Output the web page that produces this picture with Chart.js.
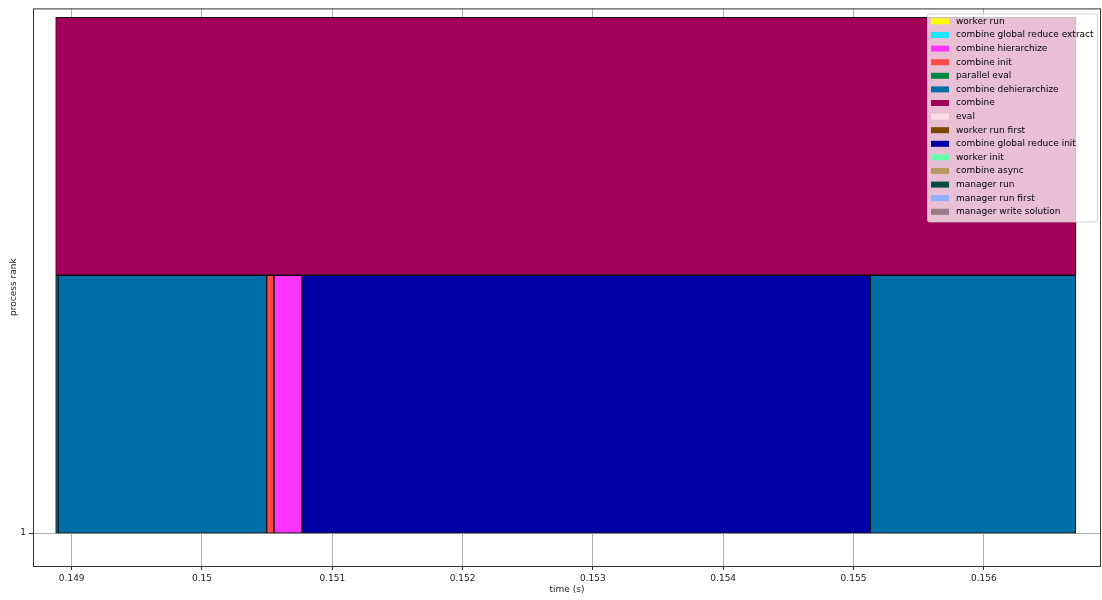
<!DOCTYPE html>
<html>
<head>
<meta charset="utf-8">
<script src="https://cdn.jsdelivr.net/npm/chart.js@4/dist/chart.umd.min.js"></script>
<style>
    body { margin: 0; background: #fff; }
    #wrap { width: 1102px; height: 600px; position: relative; }
</style>
</head>
<body>
<div id="wrap"><canvas id="timeline"></canvas></div>
<script>
// phases in legend order, with their colours
const phases = [
    'worker run', 'combine global reduce extract', 'combine hierarchize', 'combine init',
    'parallel eval', 'combine dehierarchize', 'combine', 'eval', 'worker run first',
    'combine global reduce init', 'worker init', 'combine async', 'manager run',
    'manager run first', 'manager write solution'
];
const phaseColors = [
    '#FFFF00', '#1CE6FF', '#FF34FF', '#FF4A46', '#008941', '#006FA6', '#A30059', '#FFDBE5',
    '#7A4900', '#0000A6', '#63FFAC', '#B79762', '#004D43', '#8FB0FF', '#997D87'
];

// measured intervals (seconds) for process rank 1; level 1 = outer phase
const barPhase = ['combine', 'combine dehierarchize', 'combine dehierarchize', 'combine init',
    'combine hierarchize', 'combine global reduce init', 'combine dehierarchize'];
const barRank = [1, 1, 1, 1, 1, 1, 1];
const barLevel = [1, 0, 0, 0, 0, 0, 0];
const barStart = [0.148877, 0.148877, 0.148897, 0.1504965, 0.150553, 0.150767, 0.155129];
const barEnd = [0.156708, 0.148897, 0.1504965, 0.150553, 0.150767, 0.155129, 0.156705];

const xTicks = [0.149, 0.150, 0.151, 0.152, 0.153, 0.154, 0.155, 0.156];
const xTickLabels = ['0.149', '0.15', '0.151', '0.152', '0.153', '0.154', '0.155', '0.156'];
const yTicks = [1];
const yTickLabels = ['1'];

const FONT = "'DejaVu Sans', sans-serif";

const datasets = phases.map((name, i) => ({
    label: name,
    backgroundColor: phaseColors[i],
    borderColor: '#111',
    borderWidth: 1,
    borderSkipped: false,
    barPercentage: 1,
    categoryPercentage: 1,
    grouped: false,
    data: barPhase
        .map((p, j) => p === name ? { x: [barStart[j], barEnd[j]], y: barRank[j] + barLevel[j] + 0.5 } : null)
        .filter(d => d !== null)
}));

// matplotlib-like frame around the plot area
const framePlugin = {
    id: 'frame',
    afterDatasetsDraw(chart) {
        const { ctx, chartArea: a } = chart;
        ctx.save();
        ctx.strokeStyle = '#333';
        ctx.lineWidth = 1;
        ctx.strokeRect(a.left + 0.5, a.top + 0.5, a.right - a.left - 1, a.bottom - a.top);
        ctx.restore();
    }
};

// legend drawn inside the plot, top right
const legendPlugin = {
    id: 'insideLegend',
    afterDraw(chart) {
        const { ctx, chartArea: a } = chart;
        const items = chart.data.datasets;
        const rowH = 13.6;
        const boxW = 170, boxH = items.length * rowH + 4;
        const x0 = a.right - 4 - boxW, y0 = a.top + 5;
        ctx.save();
        ctx.fillStyle = 'rgba(255,255,255,0.75)';
        ctx.strokeStyle = 'rgba(204,204,204,0.9)';
        ctx.lineWidth = 1;
        ctx.beginPath();
        ctx.roundRect(x0 + 0.5, y0 + 0.5, boxW, boxH, 2);
        ctx.fill();
        ctx.stroke();
        ctx.font = '9px ' + FONT;
        ctx.textBaseline = 'middle';
        items.forEach((ds, i) => {
            const cy = y0 + 8 + i * rowH;
            ctx.fillStyle = ds.backgroundColor;
            ctx.fillRect(x0 + 4, cy - 3, 18, 6);
            ctx.fillStyle = '#000';
            ctx.fillText(ds.label, x0 + 29, cy);
        });
        ctx.restore();
    }
};

new Chart(document.getElementById('timeline'), {
    type: 'bar',
    data: { datasets: datasets },
    plugins: [framePlugin, legendPlugin],
    options: {
        indexAxis: 'y',
        responsive: true,
        maintainAspectRatio: false,
        animation: false,
        layout: { padding: { top: 7, right: 1, left: 0, bottom: 0 } },
        plugins: {
            legend: { display: false },
            tooltip: { enabled: false }
        },
        scales: {
            x: {
                type: 'linear',
                min: 0.148703,
                max: 0.1568995,
                afterBuildTicks: s => { s.ticks = xTicks.map(v => ({ value: v })); },
                afterFit: s => { s.height = 34; },
                grid: { color: '#b0b0b0', lineWidth: 1, tickColor: '#333', tickLength: 4 },
                border: { display: false },
                ticks: {
                    color: '#222',
                    font: { family: FONT, size: 9 },
                    padding: 3,
                    maxRotation: 0,
                    autoSkip: false,
                    callback: (v, i) => xTickLabels[i]
                },
                title: {
                    display: true,
                    text: 'time (s)',
                    color: '#222',
                    font: { family: FONT, size: 9 },
                    padding: { top: 0, bottom: 5 }
                }
            },
            y: {
                type: 'linear',
                min: 0.8723,
                max: 3.0348,
                offset: false,
                afterBuildTicks: s => { s.ticks = yTicks.map(v => ({ value: v })); },
                afterFit: s => { s.width = 33; },
                grid: { color: '#b0b0b0', lineWidth: 1, tickColor: '#333', tickLength: 4, offset: false },
                border: { display: false },
                ticks: {
                    color: '#222',
                    font: { family: FONT, size: 9 },
                    padding: 3,
                    callback: (v, i) => yTickLabels[i]
                },
                title: {
                    display: true,
                    text: 'process rank',
                    color: '#222',
                    font: { family: FONT, size: 9 },
                    padding: { top: 8, bottom: 0 }
                }
            }
        }
    }
});
</script>
</body>
</html>
